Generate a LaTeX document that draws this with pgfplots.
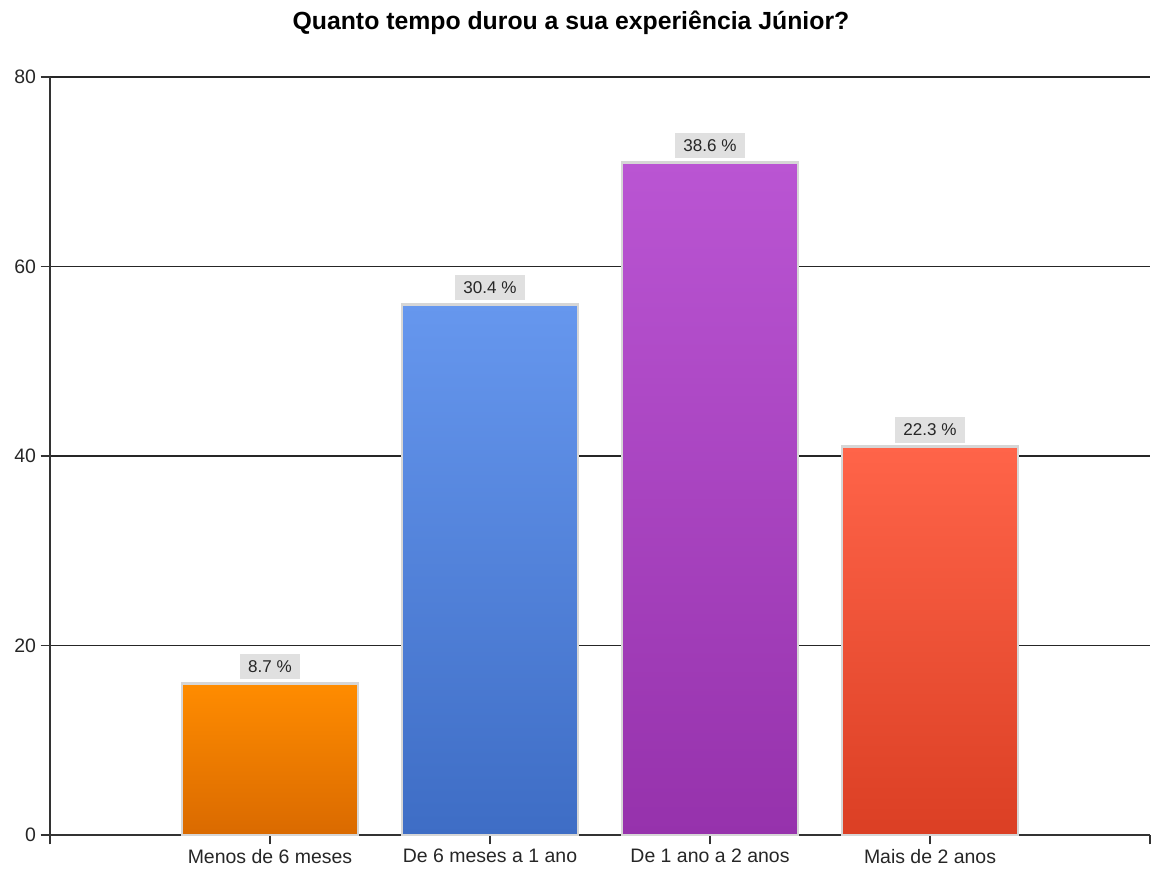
\documentclass[border=0pt]{standalone}
\usepackage{pgfplots}
\pgfplotsset{compat=1.18}
\usepackage{fontspec}
\setmainfont{Liberation Sans}
\definecolor{orT}{HTML}{FF8C00}\definecolor{orB}{HTML}{DA6A00}
\definecolor{blT}{HTML}{6697EE}\definecolor{blB}{HTML}{3E6DC5}
\definecolor{puT}{HTML}{BA55D3}\definecolor{puB}{HTML}{9632AC}
\definecolor{reT}{HTML}{FF6449}\definecolor{reB}{HTML}{DB3F24}
\definecolor{bord}{HTML}{D6D6D6}
\definecolor{lblbg}{HTML}{E0E0E0}
\begin{document}
\begin{tikzpicture}
\begin{axis}[
  scale only axis,
  width=825pt, height=568.5pt,
  xmin=0, xmax=5, ymin=0, ymax=80,
  xtick={0,1,2,3,4,5},
  xticklabels={,Menos de 6 meses,De 6 meses a 1 ano,De 1 ano a 2 anos,Mais de 2 anos,},
  ytick={0,20,40,60,80},
  axis x line*=bottom, axis y line*=left,
  axis line style={line width=0.8pt, black!80},
  tick align=outside,
  major tick length=7pt,
  tick style={line width=0.8pt, black!80},
  ymajorgrids,
  major grid style={line width=0.8pt, black!85},
  tick label style={font=\fontsize{14.6}{17}\selectfont, text=black!85},
  /pgf/number format/assume math mode=true,
  point meta=explicit symbolic,
  nodes near coords,
  every node near coord/.append style={font=\fontsize{12.8}{15}\selectfont, fill=lblbg, text=black!85, inner xsep=6.5pt, inner ysep=5pt, anchor=south, yshift=2pt},
  clip=false,
]
\addplot[ybar, bar shift=0pt, bar width=0.8, top color=orT, bottom color=orB, draw=bord, line width=2pt] coordinates {(1,16) [8.7 \%]};
\addplot[ybar, bar shift=0pt, bar width=0.8, top color=blT, bottom color=blB, draw=bord, line width=2pt] coordinates {(2,56) [30.4 \%]};
\addplot[ybar, bar shift=0pt, bar width=0.8, top color=puT, bottom color=puB, draw=bord, line width=2pt] coordinates {(3,71) [38.6 \%]};
\addplot[ybar, bar shift=0pt, bar width=0.8, top color=reT, bottom color=reB, draw=bord, line width=2pt] coordinates {(4,41) [22.3 \%]};
\coordinate (sw) at (rel axis cs:0,0);
\coordinate (ne) at (rel axis cs:1,1);
\node[font=\fontsize{18.6}{22}\selectfont\bfseries, anchor=center] at ([yshift=41pt]rel axis cs:0.4736,1) {Quanto tempo durou a sua experiência Júnior?};
\end{axis}
\pgfresetboundingbox
\path[use as bounding box] ([xshift=-37.5pt,yshift=-27pt]sw) rectangle ([xshift=3pt,yshift=57.75pt]ne);
\end{tikzpicture}
\end{document}
